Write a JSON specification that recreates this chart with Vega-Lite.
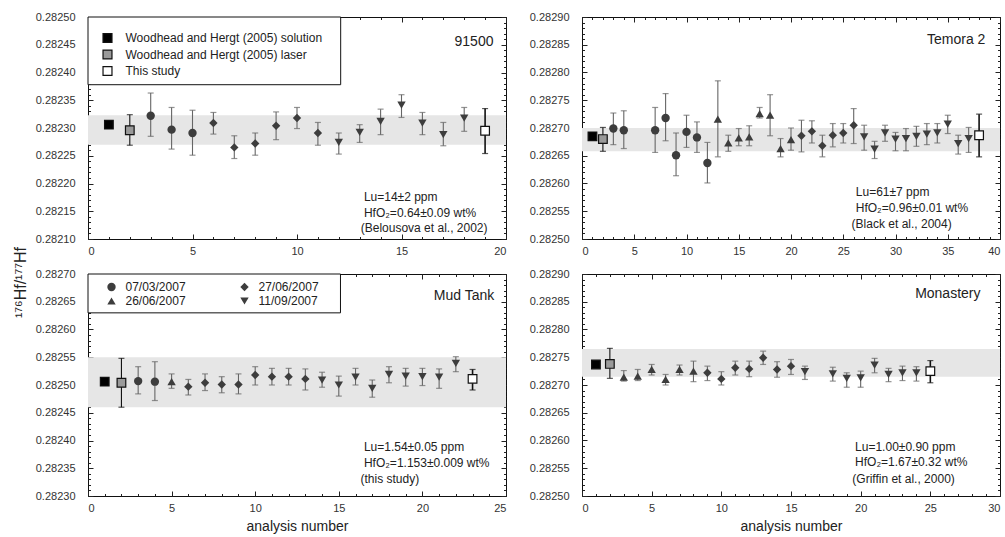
{
"$schema": "https://vega.github.io/schema/vega-lite/v6.json",
"padding": {"left": 11, "top": 10, "right": 0, "bottom": 0},
"background": "white",
"config": {
 "font": "Liberation Sans",
 "view": {"stroke": "#111", "strokeWidth": 1},
 "axis": {"grid": false, "domain": false, "tickSize": -5, "tickColor": "#222", "tickWidth": 1, "labelFontSize": 11, "labelColor": "#333", "titleFontWeight": "normal", "titleColor": "#222", "titleFontSize": 14},
 "axisLeft": {"labelPadding": 18},
 "axisBottom": {"labelPadding": 11, "titlePadding": 6},
 "legend": {"labelLimit": 400}
},
"datasets": {
 "bands": [
  {"p": "91500", "lo": 0.28227, "hi": 0.282323},
  {"p": "Temora 2", "lo": 0.282658, "hi": 0.2827},
  {"p": "Mud Tank", "lo": 0.28246, "hi": 0.28255},
  {"p": "Monastery", "lo": 0.282715, "hi": 0.282765}
 ],
 "notes": [
  {"p": "91500", "k": "title", "x": 19.4, "y": 0.282455, "s": "91500"},
  {"p": "91500", "k": "note", "x": 13.2, "y": 0.282175, "s": "Lu=14±2 ppm"},
  {"p": "91500", "k": "note", "x": 13.2, "y": 0.282147, "s": "HfO₂=0.64±0.09 wt%"},
  {"p": "91500", "k": "note", "x": 13.05, "y": 0.28212, "s": "(Belousova et al., 2002)"},
  {"p": "Temora 2", "k": "title", "x": 38.6, "y": 0.282859, "s": "Temora 2"},
  {"p": "Temora 2", "k": "note", "x": 26.2, "y": 0.282585, "s": "Lu=61±7 ppm"},
  {"p": "Temora 2", "k": "note", "x": 26.2, "y": 0.282556, "s": "HfO₂=0.96±0.01 wt%"},
  {"p": "Temora 2", "k": "note", "x": 25.8, "y": 0.282527, "s": "(Black et al., 2004)"},
  {"p": "Mud Tank", "k": "title", "x": 24.3, "y": 0.28266, "s": "Mud Tank"},
  {"p": "Mud Tank", "k": "note", "x": 16.5, "y": 0.282388, "s": "Lu=1.54±0.05 ppm"},
  {"p": "Mud Tank", "k": "note", "x": 16.5, "y": 0.28236, "s": "HfO₂=1.153±0.009 wt%"},
  {"p": "Mud Tank", "k": "note", "x": 16.3, "y": 0.282331, "s": "(this study)"},
  {"p": "Monastery", "k": "title", "x": 28.6, "y": 0.282864, "s": "Monastery"},
  {"p": "Monastery", "k": "note", "x": 19.6, "y": 0.282588, "s": "Lu=1.00±0.90 ppm"},
  {"p": "Monastery", "k": "note", "x": 19.6, "y": 0.282561, "s": "HfO₂=1.67±0.32 wt%"},
  {"p": "Monastery", "k": "note", "x": 19.4, "y": 0.282531, "s": "(Griffin et al., 2000)"}
 ],
 "pts": [
  {"p": "91500", "n": 1, "v": 0.282306, "t": "Woodhead and Hergt (2005) solution"},
  {"p": "91500", "n": 2, "v": 0.282296, "lo": 0.282269, "hi": 0.282324, "t": "Woodhead and Hergt (2005) laser"},
  {"p": "91500", "n": 3, "v": 0.282322, "lo": 0.282285, "hi": 0.282363, "t": "07/03/2007"},
  {"p": "91500", "n": 4, "v": 0.282297, "lo": 0.282262, "hi": 0.282337, "t": "07/03/2007"},
  {"p": "91500", "n": 5, "v": 0.282291, "lo": 0.282251, "hi": 0.282332, "t": "07/03/2007"},
  {"p": "91500", "n": 6, "v": 0.282309, "lo": 0.282289, "hi": 0.282328, "t": "27/06/2007"},
  {"p": "91500", "n": 7, "v": 0.282265, "lo": 0.282245, "hi": 0.282286, "t": "27/06/2007"},
  {"p": "91500", "n": 8, "v": 0.282272, "lo": 0.282251, "hi": 0.282291, "t": "27/06/2007"},
  {"p": "91500", "n": 9, "v": 0.282304, "lo": 0.282279, "hi": 0.282329, "t": "27/06/2007"},
  {"p": "91500", "n": 10, "v": 0.282318, "lo": 0.282299, "hi": 0.282337, "t": "27/06/2007"},
  {"p": "91500", "n": 11, "v": 0.282291, "lo": 0.282269, "hi": 0.28231, "t": "27/06/2007"},
  {"p": "91500", "n": 12, "v": 0.282274, "lo": 0.282253, "hi": 0.282291, "t": "11/09/2007"},
  {"p": "91500", "n": 13, "v": 0.282292, "lo": 0.282274, "hi": 0.282306, "t": "11/09/2007"},
  {"p": "91500", "n": 14, "v": 0.282312, "lo": 0.282288, "hi": 0.282334, "t": "11/09/2007"},
  {"p": "91500", "n": 15, "v": 0.282341, "lo": 0.282319, "hi": 0.28236, "t": "11/09/2007"},
  {"p": "91500", "n": 16, "v": 0.282309, "lo": 0.282288, "hi": 0.282328, "t": "11/09/2007"},
  {"p": "91500", "n": 17, "v": 0.282288, "lo": 0.282268, "hi": 0.28231, "t": "11/09/2007"},
  {"p": "91500", "n": 18, "v": 0.282318, "lo": 0.282294, "hi": 0.282337, "t": "11/09/2007"},
  {"p": "91500", "n": 19, "v": 0.282295, "lo": 0.282254, "hi": 0.282335, "t": "This study"},

  {"p": "Temora 2", "n": 1, "v": 0.282685, "t": "Woodhead and Hergt (2005) solution"},
  {"p": "Temora 2", "n": 2, "v": 0.28268, "lo": 0.282658, "hi": 0.282701, "t": "Woodhead and Hergt (2005) laser"},
  {"p": "Temora 2", "n": 3, "v": 0.282699, "lo": 0.28267, "hi": 0.282727, "t": "07/03/2007"},
  {"p": "Temora 2", "n": 4, "v": 0.282696, "lo": 0.282663, "hi": 0.282731, "t": "07/03/2007"},
  {"p": "Temora 2", "n": 7, "v": 0.282696, "lo": 0.282656, "hi": 0.282737, "t": "07/03/2007"},
  {"p": "Temora 2", "n": 8, "v": 0.282718, "lo": 0.282677, "hi": 0.282762, "t": "07/03/2007"},
  {"p": "Temora 2", "n": 9, "v": 0.282651, "lo": 0.282614, "hi": 0.282691, "t": "07/03/2007"},
  {"p": "Temora 2", "n": 10, "v": 0.282693, "lo": 0.282665, "hi": 0.282723, "t": "07/03/2007"},
  {"p": "Temora 2", "n": 11, "v": 0.282683, "lo": 0.282656, "hi": 0.282711, "t": "07/03/2007"},
  {"p": "Temora 2", "n": 12, "v": 0.282637, "lo": 0.282601, "hi": 0.282674, "t": "07/03/2007"},
  {"p": "Temora 2", "n": 13, "v": 0.282716, "lo": 0.282648, "hi": 0.282785, "t": "26/06/2007"},
  {"p": "Temora 2", "n": 14, "v": 0.282673, "lo": 0.282658, "hi": 0.282687, "t": "26/06/2007"},
  {"p": "Temora 2", "n": 15, "v": 0.282682, "lo": 0.282668, "hi": 0.282699, "t": "26/06/2007"},
  {"p": "Temora 2", "n": 16, "v": 0.282684, "lo": 0.282668, "hi": 0.282704, "t": "26/06/2007"},
  {"p": "Temora 2", "n": 17, "v": 0.282726, "lo": 0.282718, "hi": 0.282737, "t": "26/06/2007"},
  {"p": "Temora 2", "n": 18, "v": 0.282723, "lo": 0.282686, "hi": 0.28276, "t": "26/06/2007"},
  {"p": "Temora 2", "n": 19, "v": 0.282663, "lo": 0.282648, "hi": 0.282681, "t": "26/06/2007"},
  {"p": "Temora 2", "n": 20, "v": 0.282679, "lo": 0.28266, "hi": 0.2827, "t": "26/06/2007"},
  {"p": "Temora 2", "n": 21, "v": 0.282686, "lo": 0.282657, "hi": 0.282714, "t": "27/06/2007"},
  {"p": "Temora 2", "n": 22, "v": 0.282694, "lo": 0.282673, "hi": 0.282713, "t": "27/06/2007"},
  {"p": "Temora 2", "n": 23, "v": 0.282668, "lo": 0.282648, "hi": 0.282687, "t": "27/06/2007"},
  {"p": "Temora 2", "n": 24, "v": 0.282687, "lo": 0.282666, "hi": 0.282708, "t": "27/06/2007"},
  {"p": "Temora 2", "n": 25, "v": 0.282691, "lo": 0.282673, "hi": 0.282708, "t": "27/06/2007"},
  {"p": "Temora 2", "n": 26, "v": 0.282705, "lo": 0.282672, "hi": 0.282735, "t": "27/06/2007"},
  {"p": "Temora 2", "n": 27, "v": 0.282684, "lo": 0.28266, "hi": 0.282705, "t": "11/09/2007"},
  {"p": "Temora 2", "n": 28, "v": 0.282662, "lo": 0.282645, "hi": 0.282676, "t": "11/09/2007"},
  {"p": "Temora 2", "n": 29, "v": 0.282691, "lo": 0.282676, "hi": 0.282705, "t": "11/09/2007"},
  {"p": "Temora 2", "n": 30, "v": 0.28268, "lo": 0.282659, "hi": 0.282692, "t": "11/09/2007"},
  {"p": "Temora 2", "n": 31, "v": 0.282681, "lo": 0.282659, "hi": 0.282699, "t": "11/09/2007"},
  {"p": "Temora 2", "n": 32, "v": 0.282685, "lo": 0.282667, "hi": 0.282703, "t": "11/09/2007"},
  {"p": "Temora 2", "n": 33, "v": 0.282689, "lo": 0.28267, "hi": 0.282708, "t": "11/09/2007"},
  {"p": "Temora 2", "n": 34, "v": 0.282691, "lo": 0.282673, "hi": 0.282708, "t": "11/09/2007"},
  {"p": "Temora 2", "n": 35, "v": 0.282707, "lo": 0.28269, "hi": 0.282723, "t": "11/09/2007"},
  {"p": "Temora 2", "n": 36, "v": 0.282672, "lo": 0.282653, "hi": 0.282687, "t": "11/09/2007"},
  {"p": "Temora 2", "n": 37, "v": 0.282681, "lo": 0.282656, "hi": 0.282701, "t": "11/09/2007"},
  {"p": "Temora 2", "n": 38, "v": 0.282687, "lo": 0.282648, "hi": 0.282725, "t": "This study"},

  {"p": "Mud Tank", "n": 1, "v": 0.282506, "t": "Woodhead and Hergt (2005) solution"},
  {"p": "Mud Tank", "n": 2, "v": 0.282504, "lo": 0.28246, "hi": 0.282548, "t": "Woodhead and Hergt (2005) laser"},
  {"p": "Mud Tank", "n": 3, "v": 0.282507, "lo": 0.282484, "hi": 0.282533, "t": "07/03/2007"},
  {"p": "Mud Tank", "n": 4, "v": 0.282506, "lo": 0.282472, "hi": 0.282542, "t": "07/03/2007"},
  {"p": "Mud Tank", "n": 5, "v": 0.282506, "lo": 0.282494, "hi": 0.28252, "t": "26/06/2007"},
  {"p": "Mud Tank", "n": 6, "v": 0.282497, "lo": 0.282482, "hi": 0.28251, "t": "27/06/2007"},
  {"p": "Mud Tank", "n": 7, "v": 0.282504, "lo": 0.28249, "hi": 0.28252, "t": "27/06/2007"},
  {"p": "Mud Tank", "n": 8, "v": 0.282501, "lo": 0.282486, "hi": 0.282515, "t": "27/06/2007"},
  {"p": "Mud Tank", "n": 9, "v": 0.282501, "lo": 0.282484, "hi": 0.28252, "t": "27/06/2007"},
  {"p": "Mud Tank", "n": 10, "v": 0.282518, "lo": 0.2825, "hi": 0.282533, "t": "27/06/2007"},
  {"p": "Mud Tank", "n": 11, "v": 0.282515, "lo": 0.2825, "hi": 0.28253, "t": "27/06/2007"},
  {"p": "Mud Tank", "n": 12, "v": 0.282515, "lo": 0.2825, "hi": 0.28253, "t": "27/06/2007"},
  {"p": "Mud Tank", "n": 13, "v": 0.282511, "lo": 0.282491, "hi": 0.282529, "t": "27/06/2007"},
  {"p": "Mud Tank", "n": 14, "v": 0.282509, "lo": 0.282496, "hi": 0.282523, "t": "11/09/2007"},
  {"p": "Mud Tank", "n": 15, "v": 0.2825, "lo": 0.28248, "hi": 0.282516, "t": "11/09/2007"},
  {"p": "Mud Tank", "n": 16, "v": 0.282514, "lo": 0.2825, "hi": 0.28253, "t": "11/09/2007"},
  {"p": "Mud Tank", "n": 17, "v": 0.282494, "lo": 0.282478, "hi": 0.282509, "t": "11/09/2007"},
  {"p": "Mud Tank", "n": 18, "v": 0.282519, "lo": 0.282504, "hi": 0.282533, "t": "11/09/2007"},
  {"p": "Mud Tank", "n": 19, "v": 0.282516, "lo": 0.282498, "hi": 0.28253, "t": "11/09/2007"},
  {"p": "Mud Tank", "n": 20, "v": 0.282515, "lo": 0.282499, "hi": 0.28253, "t": "11/09/2007"},
  {"p": "Mud Tank", "n": 21, "v": 0.282514, "lo": 0.282494, "hi": 0.282529, "t": "11/09/2007"},
  {"p": "Mud Tank", "n": 22, "v": 0.282539, "lo": 0.282524, "hi": 0.282551, "t": "11/09/2007"},
  {"p": "Mud Tank", "n": 23, "v": 0.282511, "lo": 0.282491, "hi": 0.282528, "t": "This study"},

  {"p": "Monastery", "n": 1, "v": 0.282737, "t": "Woodhead and Hergt (2005) solution"},
  {"p": "Monastery", "n": 2, "v": 0.282738, "lo": 0.282712, "hi": 0.282766, "t": "Woodhead and Hergt (2005) laser"},
  {"p": "Monastery", "n": 3, "v": 0.282714, "lo": 0.282707, "hi": 0.282726, "t": "26/06/2007"},
  {"p": "Monastery", "n": 4, "v": 0.282716, "lo": 0.282708, "hi": 0.282728, "t": "26/06/2007"},
  {"p": "Monastery", "n": 5, "v": 0.282728, "lo": 0.282718, "hi": 0.282737, "t": "26/06/2007"},
  {"p": "Monastery", "n": 6, "v": 0.28271, "lo": 0.2827, "hi": 0.282719, "t": "26/06/2007"},
  {"p": "Monastery", "n": 7, "v": 0.282728, "lo": 0.282718, "hi": 0.282736, "t": "26/06/2007"},
  {"p": "Monastery", "n": 8, "v": 0.282725, "lo": 0.282706, "hi": 0.282743, "t": "26/06/2007"},
  {"p": "Monastery", "n": 9, "v": 0.282722, "lo": 0.282708, "hi": 0.282734, "t": "27/06/2007"},
  {"p": "Monastery", "n": 10, "v": 0.282711, "lo": 0.2827, "hi": 0.282724, "t": "27/06/2007"},
  {"p": "Monastery", "n": 11, "v": 0.282731, "lo": 0.282718, "hi": 0.282743, "t": "27/06/2007"},
  {"p": "Monastery", "n": 12, "v": 0.282729, "lo": 0.282715, "hi": 0.282743, "t": "27/06/2007"},
  {"p": "Monastery", "n": 13, "v": 0.282749, "lo": 0.282737, "hi": 0.282761, "t": "27/06/2007"},
  {"p": "Monastery", "n": 14, "v": 0.282728, "lo": 0.282714, "hi": 0.282742, "t": "27/06/2007"},
  {"p": "Monastery", "n": 15, "v": 0.282734, "lo": 0.282719, "hi": 0.282746, "t": "27/06/2007"},
  {"p": "Monastery", "n": 16, "v": 0.282724, "lo": 0.28271, "hi": 0.282734, "t": "11/09/2007"},
  {"p": "Monastery", "n": 18, "v": 0.28272, "lo": 0.282707, "hi": 0.282732, "t": "11/09/2007"},
  {"p": "Monastery", "n": 19, "v": 0.282712, "lo": 0.282696, "hi": 0.282722, "t": "11/09/2007"},
  {"p": "Monastery", "n": 20, "v": 0.282713, "lo": 0.282696, "hi": 0.282725, "t": "11/09/2007"},
  {"p": "Monastery", "n": 21, "v": 0.282736, "lo": 0.282722, "hi": 0.282748, "t": "11/09/2007"},
  {"p": "Monastery", "n": 22, "v": 0.282719, "lo": 0.282706, "hi": 0.28273, "t": "11/09/2007"},
  {"p": "Monastery", "n": 23, "v": 0.282722, "lo": 0.282708, "hi": 0.282734, "t": "11/09/2007"},
  {"p": "Monastery", "n": 24, "v": 0.282722, "lo": 0.282707, "hi": 0.282733, "t": "11/09/2007"},
  {"p": "Monastery", "n": 25, "v": 0.282725, "lo": 0.282704, "hi": 0.282744, "t": "This study"}
 ]
},
"columns": 2,
"spacing": {"row": 35, "column": 76},
"bounds": "flush",
"resolve": {"scale": {"shape": "independent", "fill": "independent"}},
"concat": [
   {
    "width": 418, "height": 222,
    "resolve": {"axis": {"x": "independent", "y": "independent"}},
    "layer": [
     {"data": {"name": "bands"}, "transform": [{"filter": "datum.p == '91500'"}],
      "mark": {"type": "rect", "color": "#e6e6e6"},
      "encoding": {"y": {"field": "lo", "type": "quantitative", "scale": {"domain": [0.2821, 0.2825], "nice": false, "zero": false}, "axis": null}, "y2": {"field": "hi"}}},
     {"data": {"values": [{}]},
      "mark": {"type": "rect", "fill": "#ffffff", "stroke": "#111", "strokeWidth": 1},
      "encoding": {"x": {"datum": 0, "type": "quantitative", "axis": null}, "x2": {"datum": 12.09}, "y": {"datum": 0.2825, "type": "quantitative", "axis": null}, "y2": {"datum": 0.282378}}},
     {"data": {"name": "pts"}, "transform": [{"filter": "datum.p == '91500'"}],
      "mark": {"type": "rule"},
      "encoding": {
       "x": {"field": "n", "type": "quantitative", "scale": {"domain": [0, 20], "nice": false, "zero": false}, "axis": {"orient": "bottom", "values": [0, 5, 10, 15, 20], "title": null}},
       "y": {"field": "lo", "type": "quantitative", "scale": {"domain": [0.2821, 0.2825], "nice": false, "zero": false}, "axis": {"orient": "left", "values": [0.2821, 0.28215, 0.2822, 0.28225, 0.2823, 0.28235, 0.2824, 0.28245, 0.2825], "format": ".5f", "title": "¹⁷⁶Hf/¹⁷⁷Hf", "titleX": -68, "titleY": 265, "titleAngle": -90, "titleAlign": "center", "titleBaseline": "middle", "titleFontSize": 16}},
       "y2": {"field": "hi"},
       "color": {"condition": {"test": "datum.t == 'This study' || datum.t == 'Woodhead and Hergt (2005) laser'", "value": "#111"}, "value": "#666"},
       "strokeWidth": {"condition": {"test": "datum.t == 'This study'", "value": 1.6}, "value": 1.1}}},
     {"data": {"name": "pts"}, "transform": [{"filter": "datum.p == '91500'"}],
      "mark": {"type": "tick", "orient": "horizontal", "size": 6, "thickness": 1.2},
      "encoding": {"x": {"field": "n", "type": "quantitative", "axis": {"orient": "bottom", "values": [0,1,2,3,4,5,6,7,8,9,10,11,12,13,14,15,16,17,18,19,20], "labels": false, "title": null, "tickSize": -2.5}},
       "y": {"field": "lo", "type": "quantitative", "axis": {"orient": "left", "values": [0.2821,0.28211,0.28212,0.28213,0.28214,0.28215,0.28216,0.28217,0.28218,0.28219,0.2822,0.28221,0.28222,0.28223,0.28224,0.28225,0.28226,0.28227,0.28228,0.28229,0.2823,0.28231,0.28232,0.28233,0.28234,0.28235,0.28236,0.28237,0.28238,0.28239,0.2824,0.28241,0.28242,0.28243,0.28244,0.28245,0.28246,0.28247,0.28248,0.28249,0.2825], "labels": false, "title": null, "tickSize": -2.5}},
       "color": {"condition": {"test": "datum.t == 'This study' || datum.t == 'Woodhead and Hergt (2005) laser'", "value": "#111"}, "value": "#666"}}},
     {"data": {"name": "pts"}, "transform": [{"filter": "datum.p == '91500'"}],
      "mark": {"type": "tick", "orient": "horizontal", "size": 6, "thickness": 1.2},
      "encoding": {"x": {"field": "n", "type": "quantitative", "axis": {"orient": "top", "values": [0,1,2,3,4,5,6,7,8,9,10,11,12,13,14,15,16,17,18,19,20], "labels": false, "title": null, "tickSize": -2.5}},
       "y": {"field": "hi", "type": "quantitative", "axis": {"orient": "right", "values": [0.2821,0.28211,0.28212,0.28213,0.28214,0.28215,0.28216,0.28217,0.28218,0.28219,0.2822,0.28221,0.28222,0.28223,0.28224,0.28225,0.28226,0.28227,0.28228,0.28229,0.2823,0.28231,0.28232,0.28233,0.28234,0.28235,0.28236,0.28237,0.28238,0.28239,0.2824,0.28241,0.28242,0.28243,0.28244,0.28245,0.28246,0.28247,0.28248,0.28249,0.2825], "labels": false, "title": null, "tickSize": -2.5}},
       "color": {"condition": {"test": "datum.t == 'This study' || datum.t == 'Woodhead and Hergt (2005) laser'", "value": "#111"}, "value": "#666"}}},
     {"data": {"name": "pts"}, "transform": [{"filter": "datum.p == '91500'"}, {"filter": {"field": "t", "oneOf": ["07/03/2007", "26/06/2007", "27/06/2007", "11/09/2007"]}}],
      "mark": {"type": "point", "filled": true, "color": "#3d3d3d", "opacity": 1, "size": 70},
      "encoding": {"x": {"field": "n", "type": "quantitative", "axis": {"orient": "top", "values": [0, 5, 10, 15, 20], "labels": false, "title": null}},
       "y": {"field": "v", "type": "quantitative", "axis": {"orient": "right", "values": [0.2821, 0.28215, 0.2822, 0.28225, 0.2823, 0.28235, 0.2824, 0.28245, 0.2825], "labels": false, "title": null}},
       "shape": {"field": "t", "type": "nominal", "scale": {"domain": ["07/03/2007", "26/06/2007", "27/06/2007", "11/09/2007"], "range": ["circle", "triangle-up", "diamond", "triangle-down"]}, "legend": null}}},
     {"data": {"name": "pts"}, "transform": [{"filter": "datum.p == '91500'"}, {"filter": {"field": "t", "oneOf": ["Woodhead and Hergt (2005) solution", "Woodhead and Hergt (2005) laser", "This study"]}}],
      "mark": {"type": "point", "shape": "square", "filled": true, "stroke": "#111", "strokeWidth": 1.2, "size": 75, "opacity": 1},
      "encoding": {"x": {"field": "n", "type": "quantitative", "axis": null}, "y": {"field": "v", "type": "quantitative", "axis": null},
       "fill": {"field": "t", "type": "nominal", "scale": {"domain": ["Woodhead and Hergt (2005) solution", "Woodhead and Hergt (2005) laser", "This study"], "range": ["#000000", "#9a9a9a", "#ffffff"]},
        "legend": {"orient": "none", "legendX": 13.5, "legendY": 15, "title": null, "symbolType": "square", "symbolSize": 80, "symbolStrokeColor": "#111", "symbolStrokeWidth": 1.2, "labelFontSize": 12, "labelColor": "#222", "labelOffset": 12, "rowPadding": 2.5, "padding": 0, "labelLimit": 400}}}},
     {"data": {"name": "notes"}, "transform": [{"filter": "datum.p == '91500' && datum.k == 'title'"}],
      "mark": {"type": "text", "align": "right", "baseline": "middle", "fontSize": 14, "color": "#222"},
      "encoding": {"x": {"field": "x", "type": "quantitative", "axis": null}, "y": {"field": "y", "type": "quantitative", "axis": null}, "text": {"field": "s"}}},
     {"data": {"name": "notes"}, "transform": [{"filter": "datum.p == '91500' && datum.k == 'note'"}],
      "mark": {"type": "text", "align": "left", "baseline": "middle", "fontSize": 12, "color": "#222"},
      "encoding": {"x": {"field": "x", "type": "quantitative", "axis": null}, "y": {"field": "y", "type": "quantitative", "axis": null}, "text": {"field": "s"}}}
    ]
   },
   {
    "width": 418, "height": 222,
    "resolve": {"axis": {"x": "independent", "y": "independent"}},
    "layer": [
     {"data": {"name": "bands"}, "transform": [{"filter": "datum.p == 'Temora 2'"}],
      "mark": {"type": "rect", "color": "#e6e6e6"},
      "encoding": {"y": {"field": "lo", "type": "quantitative", "scale": {"domain": [0.2825, 0.2829], "nice": false, "zero": false}, "axis": null}, "y2": {"field": "hi"}}},
     {"data": {"name": "pts"}, "transform": [{"filter": "datum.p == 'Temora 2'"}],
      "mark": {"type": "rule"},
      "encoding": {
       "x": {"field": "n", "type": "quantitative", "scale": {"domain": [0, 40], "nice": false, "zero": false}, "axis": {"orient": "bottom", "values": [0, 5, 10, 15, 20, 25, 30, 35, 40], "title": null}},
       "y": {"field": "lo", "type": "quantitative", "scale": {"domain": [0.2825, 0.2829], "nice": false, "zero": false}, "axis": {"orient": "left", "values": [0.2825, 0.28255, 0.2826, 0.28265, 0.2827, 0.28275, 0.2828, 0.28285, 0.2829], "format": ".5f", "title": null}},
       "y2": {"field": "hi"},
       "color": {"condition": {"test": "datum.t == 'This study' || datum.t == 'Woodhead and Hergt (2005) laser'", "value": "#111"}, "value": "#666"},
       "strokeWidth": {"condition": {"test": "datum.t == 'This study'", "value": 1.6}, "value": 1.1}}},
     {"data": {"name": "pts"}, "transform": [{"filter": "datum.p == 'Temora 2'"}],
      "mark": {"type": "tick", "orient": "horizontal", "size": 6, "thickness": 1.2},
      "encoding": {"x": {"field": "n", "type": "quantitative", "axis": {"orient": "bottom", "values": [0,1,2,3,4,5,6,7,8,9,10,11,12,13,14,15,16,17,18,19,20,21,22,23,24,25,26,27,28,29,30,31,32,33,34,35,36,37,38,39,40], "labels": false, "title": null, "tickSize": -2.5}},
       "y": {"field": "lo", "type": "quantitative", "axis": {"orient": "left", "values": [0.2825,0.28251,0.28252,0.28253,0.28254,0.28255,0.28256,0.28257,0.28258,0.28259,0.2826,0.28261,0.28262,0.28263,0.28264,0.28265,0.28266,0.28267,0.28268,0.28269,0.2827,0.28271,0.28272,0.28273,0.28274,0.28275,0.28276,0.28277,0.28278,0.28279,0.2828,0.28281,0.28282,0.28283,0.28284,0.28285,0.28286,0.28287,0.28288,0.28289,0.2829], "labels": false, "title": null, "tickSize": -2.5}},
       "color": {"condition": {"test": "datum.t == 'This study' || datum.t == 'Woodhead and Hergt (2005) laser'", "value": "#111"}, "value": "#666"}}},
     {"data": {"name": "pts"}, "transform": [{"filter": "datum.p == 'Temora 2'"}],
      "mark": {"type": "tick", "orient": "horizontal", "size": 6, "thickness": 1.2},
      "encoding": {"x": {"field": "n", "type": "quantitative", "axis": {"orient": "top", "values": [0,1,2,3,4,5,6,7,8,9,10,11,12,13,14,15,16,17,18,19,20,21,22,23,24,25,26,27,28,29,30,31,32,33,34,35,36,37,38,39,40], "labels": false, "title": null, "tickSize": -2.5}},
       "y": {"field": "hi", "type": "quantitative", "axis": {"orient": "right", "values": [0.2825,0.28251,0.28252,0.28253,0.28254,0.28255,0.28256,0.28257,0.28258,0.28259,0.2826,0.28261,0.28262,0.28263,0.28264,0.28265,0.28266,0.28267,0.28268,0.28269,0.2827,0.28271,0.28272,0.28273,0.28274,0.28275,0.28276,0.28277,0.28278,0.28279,0.2828,0.28281,0.28282,0.28283,0.28284,0.28285,0.28286,0.28287,0.28288,0.28289,0.2829], "labels": false, "title": null, "tickSize": -2.5}},
       "color": {"condition": {"test": "datum.t == 'This study' || datum.t == 'Woodhead and Hergt (2005) laser'", "value": "#111"}, "value": "#666"}}},
     {"data": {"name": "pts"}, "transform": [{"filter": "datum.p == 'Temora 2'"}, {"filter": {"field": "t", "oneOf": ["07/03/2007", "26/06/2007", "27/06/2007", "11/09/2007"]}}],
      "mark": {"type": "point", "filled": true, "color": "#3d3d3d", "opacity": 1, "size": 70},
      "encoding": {"x": {"field": "n", "type": "quantitative", "axis": {"orient": "top", "values": [0, 5, 10, 15, 20, 25, 30, 35, 40], "labels": false, "title": null}},
       "y": {"field": "v", "type": "quantitative", "axis": {"orient": "right", "values": [0.2825, 0.28255, 0.2826, 0.28265, 0.2827, 0.28275, 0.2828, 0.28285, 0.2829], "labels": false, "title": null}},
       "shape": {"field": "t", "type": "nominal", "scale": {"domain": ["07/03/2007", "26/06/2007", "27/06/2007", "11/09/2007"], "range": ["circle", "triangle-up", "diamond", "triangle-down"]}, "legend": null}}},
     {"data": {"name": "pts"}, "transform": [{"filter": "datum.p == 'Temora 2'"}, {"filter": {"field": "t", "oneOf": ["Woodhead and Hergt (2005) solution", "Woodhead and Hergt (2005) laser", "This study"]}}],
      "mark": {"type": "point", "shape": "square", "filled": true, "stroke": "#111", "strokeWidth": 1.2, "size": 75, "opacity": 1},
      "encoding": {"x": {"field": "n", "type": "quantitative", "axis": null}, "y": {"field": "v", "type": "quantitative", "axis": null},
       "fill": {"field": "t", "type": "nominal", "scale": {"domain": ["Woodhead and Hergt (2005) solution", "Woodhead and Hergt (2005) laser", "This study"], "range": ["#000000", "#9a9a9a", "#ffffff"]}, "legend": null}}},
     {"data": {"name": "notes"}, "transform": [{"filter": "datum.p == 'Temora 2' && datum.k == 'title'"}],
      "mark": {"type": "text", "align": "right", "baseline": "middle", "fontSize": 14, "color": "#222"},
      "encoding": {"x": {"field": "x", "type": "quantitative", "axis": null}, "y": {"field": "y", "type": "quantitative", "axis": null}, "text": {"field": "s"}}},
     {"data": {"name": "notes"}, "transform": [{"filter": "datum.p == 'Temora 2' && datum.k == 'note'"}],
      "mark": {"type": "text", "align": "left", "baseline": "middle", "fontSize": 12, "color": "#222"},
      "encoding": {"x": {"field": "x", "type": "quantitative", "axis": null}, "y": {"field": "y", "type": "quantitative", "axis": null}, "text": {"field": "s"}}}
    ]
   },
   {
    "width": 418, "height": 222,
    "resolve": {"axis": {"x": "independent", "y": "independent"}},
    "layer": [
     {"data": {"name": "bands"}, "transform": [{"filter": "datum.p == 'Mud Tank'"}],
      "mark": {"type": "rect", "color": "#e6e6e6"},
      "encoding": {"y": {"field": "lo", "type": "quantitative", "scale": {"domain": [0.2823, 0.2827], "nice": false, "zero": false}, "axis": null}, "y2": {"field": "hi"}}},
     {"data": {"values": [{}]},
      "mark": {"type": "rect", "fill": "#ffffff", "stroke": "#111", "strokeWidth": 1},
      "encoding": {"x": {"datum": 0, "type": "quantitative", "axis": null}, "x2": {"datum": 15.1}, "y": {"datum": 0.2827, "type": "quantitative", "axis": null}, "y2": {"datum": 0.28263}}},
     {"data": {"name": "pts"}, "transform": [{"filter": "datum.p == 'Mud Tank'"}],
      "mark": {"type": "rule"},
      "encoding": {
       "x": {"field": "n", "type": "quantitative", "scale": {"domain": [0, 25], "nice": false, "zero": false}, "axis": {"orient": "bottom", "values": [0, 5, 10, 15, 20, 25], "title": "analysis number"}},
       "y": {"field": "lo", "type": "quantitative", "scale": {"domain": [0.2823, 0.2827], "nice": false, "zero": false}, "axis": {"orient": "left", "values": [0.2823, 0.28235, 0.2824, 0.28245, 0.2825, 0.28255, 0.2826, 0.28265, 0.2827], "format": ".5f", "title": null}},
       "y2": {"field": "hi"},
       "color": {"condition": {"test": "datum.t == 'This study' || datum.t == 'Woodhead and Hergt (2005) laser'", "value": "#111"}, "value": "#666"},
       "strokeWidth": {"condition": {"test": "datum.t == 'This study'", "value": 1.6}, "value": 1.1}}},
     {"data": {"name": "pts"}, "transform": [{"filter": "datum.p == 'Mud Tank'"}],
      "mark": {"type": "tick", "orient": "horizontal", "size": 6, "thickness": 1.2},
      "encoding": {"x": {"field": "n", "type": "quantitative", "axis": {"orient": "bottom", "values": [0,1,2,3,4,5,6,7,8,9,10,11,12,13,14,15,16,17,18,19,20,21,22,23,24,25], "labels": false, "title": null, "tickSize": -2.5}},
       "y": {"field": "lo", "type": "quantitative", "axis": {"orient": "left", "values": [0.2823,0.28231,0.28232,0.28233,0.28234,0.28235,0.28236,0.28237,0.28238,0.28239,0.2824,0.28241,0.28242,0.28243,0.28244,0.28245,0.28246,0.28247,0.28248,0.28249,0.2825,0.28251,0.28252,0.28253,0.28254,0.28255,0.28256,0.28257,0.28258,0.28259,0.2826,0.28261,0.28262,0.28263,0.28264,0.28265,0.28266,0.28267,0.28268,0.28269,0.2827], "labels": false, "title": null, "tickSize": -2.5}},
       "color": {"condition": {"test": "datum.t == 'This study' || datum.t == 'Woodhead and Hergt (2005) laser'", "value": "#111"}, "value": "#666"}}},
     {"data": {"name": "pts"}, "transform": [{"filter": "datum.p == 'Mud Tank'"}],
      "mark": {"type": "tick", "orient": "horizontal", "size": 6, "thickness": 1.2},
      "encoding": {"x": {"field": "n", "type": "quantitative", "axis": {"orient": "top", "values": [0,1,2,3,4,5,6,7,8,9,10,11,12,13,14,15,16,17,18,19,20,21,22,23,24,25], "labels": false, "title": null, "tickSize": -2.5}},
       "y": {"field": "hi", "type": "quantitative", "axis": {"orient": "right", "values": [0.2823,0.28231,0.28232,0.28233,0.28234,0.28235,0.28236,0.28237,0.28238,0.28239,0.2824,0.28241,0.28242,0.28243,0.28244,0.28245,0.28246,0.28247,0.28248,0.28249,0.2825,0.28251,0.28252,0.28253,0.28254,0.28255,0.28256,0.28257,0.28258,0.28259,0.2826,0.28261,0.28262,0.28263,0.28264,0.28265,0.28266,0.28267,0.28268,0.28269,0.2827], "labels": false, "title": null, "tickSize": -2.5}},
       "color": {"condition": {"test": "datum.t == 'This study' || datum.t == 'Woodhead and Hergt (2005) laser'", "value": "#111"}, "value": "#666"}}},
     {"data": {"name": "pts"}, "transform": [{"filter": "datum.p == 'Mud Tank'"}, {"filter": {"field": "t", "oneOf": ["07/03/2007", "26/06/2007", "27/06/2007", "11/09/2007"]}}],
      "mark": {"type": "point", "filled": true, "color": "#3d3d3d", "opacity": 1, "size": 70},
      "encoding": {"x": {"field": "n", "type": "quantitative", "axis": {"orient": "top", "values": [0, 5, 10, 15, 20, 25], "labels": false, "title": null}},
       "y": {"field": "v", "type": "quantitative", "axis": {"orient": "right", "values": [0.2823, 0.28235, 0.2824, 0.28245, 0.2825, 0.28255, 0.2826, 0.28265, 0.2827], "labels": false, "title": null}},
       "shape": {"field": "t", "type": "nominal", "scale": {"domain": ["07/03/2007", "26/06/2007", "27/06/2007", "11/09/2007"], "range": ["circle", "triangle-up", "diamond", "triangle-down"]},
        "legend": {"orient": "none", "legendX": 17.5, "legendY": 7, "title": null, "columns": 2, "columnPadding": 52, "symbolSize": 70, "symbolFillColor": "#3d3d3d", "symbolStrokeWidth": 0, "labelFontSize": 12, "labelColor": "#222", "labelOffset": 8, "rowPadding": 2, "padding": 0}}}},
     {"data": {"name": "pts"}, "transform": [{"filter": "datum.p == 'Mud Tank'"}, {"filter": {"field": "t", "oneOf": ["Woodhead and Hergt (2005) solution", "Woodhead and Hergt (2005) laser", "This study"]}}],
      "mark": {"type": "point", "shape": "square", "filled": true, "stroke": "#111", "strokeWidth": 1.2, "size": 75, "opacity": 1},
      "encoding": {"x": {"field": "n", "type": "quantitative", "axis": null}, "y": {"field": "v", "type": "quantitative", "axis": null},
       "fill": {"field": "t", "type": "nominal", "scale": {"domain": ["Woodhead and Hergt (2005) solution", "Woodhead and Hergt (2005) laser", "This study"], "range": ["#000000", "#9a9a9a", "#ffffff"]}, "legend": null}}},
     {"data": {"name": "notes"}, "transform": [{"filter": "datum.p == 'Mud Tank' && datum.k == 'title'"}],
      "mark": {"type": "text", "align": "right", "baseline": "middle", "fontSize": 14, "color": "#222"},
      "encoding": {"x": {"field": "x", "type": "quantitative", "axis": null}, "y": {"field": "y", "type": "quantitative", "axis": null}, "text": {"field": "s"}}},
     {"data": {"name": "notes"}, "transform": [{"filter": "datum.p == 'Mud Tank' && datum.k == 'note'"}],
      "mark": {"type": "text", "align": "left", "baseline": "middle", "fontSize": 12, "color": "#222"},
      "encoding": {"x": {"field": "x", "type": "quantitative", "axis": null}, "y": {"field": "y", "type": "quantitative", "axis": null}, "text": {"field": "s"}}}
    ]
   },
   {
    "width": 418, "height": 222,
    "resolve": {"axis": {"x": "independent", "y": "independent"}},
    "layer": [
     {"data": {"name": "bands"}, "transform": [{"filter": "datum.p == 'Monastery'"}],
      "mark": {"type": "rect", "color": "#e6e6e6"},
      "encoding": {"y": {"field": "lo", "type": "quantitative", "scale": {"domain": [0.2825, 0.2829], "nice": false, "zero": false}, "axis": null}, "y2": {"field": "hi"}}},
     {"data": {"name": "pts"}, "transform": [{"filter": "datum.p == 'Monastery'"}],
      "mark": {"type": "rule"},
      "encoding": {
       "x": {"field": "n", "type": "quantitative", "scale": {"domain": [0, 30], "nice": false, "zero": false}, "axis": {"orient": "bottom", "values": [0, 5, 10, 15, 20, 25, 30], "title": "analysis number"}},
       "y": {"field": "lo", "type": "quantitative", "scale": {"domain": [0.2825, 0.2829], "nice": false, "zero": false}, "axis": {"orient": "left", "values": [0.2825, 0.28255, 0.2826, 0.28265, 0.2827, 0.28275, 0.2828, 0.28285, 0.2829], "format": ".5f", "title": null}},
       "y2": {"field": "hi"},
       "color": {"condition": {"test": "datum.t == 'This study' || datum.t == 'Woodhead and Hergt (2005) laser'", "value": "#111"}, "value": "#666"},
       "strokeWidth": {"condition": {"test": "datum.t == 'This study'", "value": 1.6}, "value": 1.1}}},
     {"data": {"name": "pts"}, "transform": [{"filter": "datum.p == 'Monastery'"}],
      "mark": {"type": "tick", "orient": "horizontal", "size": 6, "thickness": 1.2},
      "encoding": {"x": {"field": "n", "type": "quantitative", "axis": {"orient": "bottom", "values": [0,1,2,3,4,5,6,7,8,9,10,11,12,13,14,15,16,17,18,19,20,21,22,23,24,25,26,27,28,29,30], "labels": false, "title": null, "tickSize": -2.5}},
       "y": {"field": "lo", "type": "quantitative", "axis": {"orient": "left", "values": [0.2825,0.28251,0.28252,0.28253,0.28254,0.28255,0.28256,0.28257,0.28258,0.28259,0.2826,0.28261,0.28262,0.28263,0.28264,0.28265,0.28266,0.28267,0.28268,0.28269,0.2827,0.28271,0.28272,0.28273,0.28274,0.28275,0.28276,0.28277,0.28278,0.28279,0.2828,0.28281,0.28282,0.28283,0.28284,0.28285,0.28286,0.28287,0.28288,0.28289,0.2829], "labels": false, "title": null, "tickSize": -2.5}},
       "color": {"condition": {"test": "datum.t == 'This study' || datum.t == 'Woodhead and Hergt (2005) laser'", "value": "#111"}, "value": "#666"}}},
     {"data": {"name": "pts"}, "transform": [{"filter": "datum.p == 'Monastery'"}],
      "mark": {"type": "tick", "orient": "horizontal", "size": 6, "thickness": 1.2},
      "encoding": {"x": {"field": "n", "type": "quantitative", "axis": {"orient": "top", "values": [0,1,2,3,4,5,6,7,8,9,10,11,12,13,14,15,16,17,18,19,20,21,22,23,24,25,26,27,28,29,30], "labels": false, "title": null, "tickSize": -2.5}},
       "y": {"field": "hi", "type": "quantitative", "axis": {"orient": "right", "values": [0.2825,0.28251,0.28252,0.28253,0.28254,0.28255,0.28256,0.28257,0.28258,0.28259,0.2826,0.28261,0.28262,0.28263,0.28264,0.28265,0.28266,0.28267,0.28268,0.28269,0.2827,0.28271,0.28272,0.28273,0.28274,0.28275,0.28276,0.28277,0.28278,0.28279,0.2828,0.28281,0.28282,0.28283,0.28284,0.28285,0.28286,0.28287,0.28288,0.28289,0.2829], "labels": false, "title": null, "tickSize": -2.5}},
       "color": {"condition": {"test": "datum.t == 'This study' || datum.t == 'Woodhead and Hergt (2005) laser'", "value": "#111"}, "value": "#666"}}},
     {"data": {"name": "pts"}, "transform": [{"filter": "datum.p == 'Monastery'"}, {"filter": {"field": "t", "oneOf": ["07/03/2007", "26/06/2007", "27/06/2007", "11/09/2007"]}}],
      "mark": {"type": "point", "filled": true, "color": "#3d3d3d", "opacity": 1, "size": 70},
      "encoding": {"x": {"field": "n", "type": "quantitative", "axis": {"orient": "top", "values": [0, 5, 10, 15, 20, 25, 30], "labels": false, "title": null}},
       "y": {"field": "v", "type": "quantitative", "axis": {"orient": "right", "values": [0.2825, 0.28255, 0.2826, 0.28265, 0.2827, 0.28275, 0.2828, 0.28285, 0.2829], "labels": false, "title": null}},
       "shape": {"field": "t", "type": "nominal", "scale": {"domain": ["07/03/2007", "26/06/2007", "27/06/2007", "11/09/2007"], "range": ["circle", "triangle-up", "diamond", "triangle-down"]}, "legend": null}}},
     {"data": {"name": "pts"}, "transform": [{"filter": "datum.p == 'Monastery'"}, {"filter": {"field": "t", "oneOf": ["Woodhead and Hergt (2005) solution", "Woodhead and Hergt (2005) laser", "This study"]}}],
      "mark": {"type": "point", "shape": "square", "filled": true, "stroke": "#111", "strokeWidth": 1.2, "size": 75, "opacity": 1},
      "encoding": {"x": {"field": "n", "type": "quantitative", "axis": null}, "y": {"field": "v", "type": "quantitative", "axis": null},
       "fill": {"field": "t", "type": "nominal", "scale": {"domain": ["Woodhead and Hergt (2005) solution", "Woodhead and Hergt (2005) laser", "This study"], "range": ["#000000", "#9a9a9a", "#ffffff"]}, "legend": null}}},
     {"data": {"name": "notes"}, "transform": [{"filter": "datum.p == 'Monastery' && datum.k == 'title'"}],
      "mark": {"type": "text", "align": "right", "baseline": "middle", "fontSize": 14, "color": "#222"},
      "encoding": {"x": {"field": "x", "type": "quantitative", "axis": null}, "y": {"field": "y", "type": "quantitative", "axis": null}, "text": {"field": "s"}}},
     {"data": {"name": "notes"}, "transform": [{"filter": "datum.p == 'Monastery' && datum.k == 'note'"}],
      "mark": {"type": "text", "align": "left", "baseline": "middle", "fontSize": 12, "color": "#222"},
      "encoding": {"x": {"field": "x", "type": "quantitative", "axis": null}, "y": {"field": "y", "type": "quantitative", "axis": null}, "text": {"field": "s"}}}
    ]
   }
]
}
